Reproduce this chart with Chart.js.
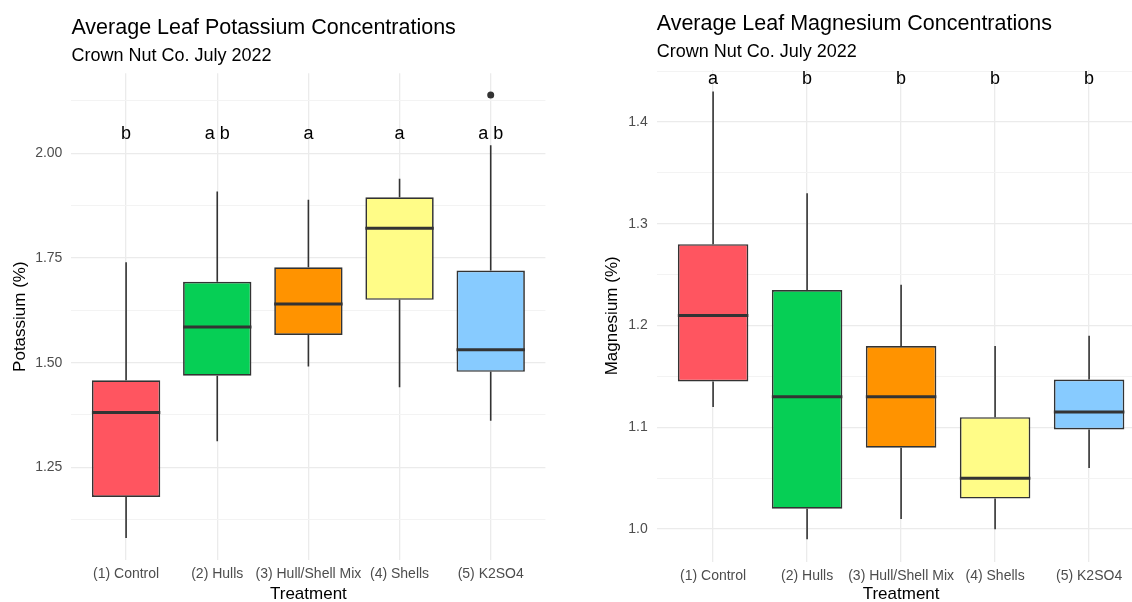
<!DOCTYPE html>
<html>
<head>
<meta charset="utf-8">
<script src="https://cdn.jsdelivr.net/npm/chart.js@4.4.1/dist/chart.umd.min.js"></script>
<style>
  html, body { margin: 0; padding: 0; background: #fff; overflow: hidden; }
  body { width: 1132px; height: 602px; position: relative; }
  .panel { position: absolute; top: 0; height: 602px; }
  #potasio { left: 0; width: 566px; }
  #magnesio { left: 566px; width: 600px; }
</style>
</head>
<body>
<div class="panel" id="potasio"><canvas id="chartK"></canvas></div>
<div class="panel" id="magnesio"><canvas id="chartMg"></canvas></div>
<script>
const tratamientos = ["(1) Control", "(2) Hulls", "(3) Hull/Shell Mix", "(4) Shells", "(5) K2SO4"];
const colores = ["#FF5560", "#06CF55", "#FF9300", "#FFFC87", "#87CBFF"];

// Potasio (%)
const kMin = [1.081, 1.312, 1.491, 1.441, 1.361];
const kQ1 = [1.179, 1.469, 1.566, 1.650, 1.478];
const kMed = [1.381, 1.585, 1.640, 1.821, 1.531];
const kQ3 = [1.458, 1.693, 1.728, 1.895, 1.720];
const kMax = [1.740, 1.909, 1.889, 1.939, 2.019];
const kAtipicos = [{ x: 5, y: 2.139 }];
const kLetras = ["b", "a b", "a", "a", "a b"];
const kTicks = [1.25, 1.50, 1.75, 2.00];

// Magnesio (%)
const mgMin = [1.120, 0.990, 1.010, 1.000, 1.060];
const mgQ1 = [1.145, 1.020, 1.080, 1.030, 1.098];
const mgMed = [1.210, 1.130, 1.130, 1.050, 1.115];
const mgQ3 = [1.280, 1.235, 1.180, 1.110, 1.147];
const mgMax = [1.430, 1.330, 1.240, 1.180, 1.190];
const mgAtipicos = [];
const mgLetras = ["a", "b", "b", "b", "b"];
const mgTicks = [1.0, 1.1, 1.2, 1.3, 1.4];

const fuente = '"Liberation Sans", Arial, sans-serif';

function crearGrafico(id, c) {
  const pasoMenor = (c.ticks[1] - c.ticks[0]) / 2;

  // bigotes, medianas, letras y titulos
  const cajas = {
    id: 'cajas',
    afterDatasetsDraw(chart) {
      const { ctx, scales: { x, y } } = chart;
      const medio = x.getPixelForValue(1.375) - x.getPixelForValue(1);
      ctx.save();
      ctx.strokeStyle = '#333333';
      c.min.forEach((v, i) => {
        const cx = x.getPixelForValue(i + 1);
        ctx.lineWidth = 1.6;
        ctx.beginPath();
        ctx.moveTo(cx, y.getPixelForValue(c.q3[i]));
        ctx.lineTo(cx, y.getPixelForValue(c.max[i]));
        ctx.moveTo(cx, y.getPixelForValue(c.q1[i]));
        ctx.lineTo(cx, y.getPixelForValue(v));
        ctx.stroke();
        const my = y.getPixelForValue(c.med[i]);
        ctx.lineWidth = 3;
        ctx.beginPath();
        ctx.moveTo(cx - medio, my);
        ctx.lineTo(cx + medio, my);
        ctx.stroke();
      });
      ctx.fillStyle = '#000';
      ctx.font = '18px ' + fuente;
      ctx.textAlign = 'center';
      ctx.textBaseline = 'alphabetic';
      c.letras.forEach((t, i) => {
        ctx.fillText(t, x.getPixelForValue(i + 1), y.getPixelForValue(c.yLetras));
      });
      ctx.restore();
    },
    afterDraw(chart) {
      const { ctx, chartArea } = chart;
      ctx.save();
      ctx.fillStyle = '#000';
      ctx.textAlign = 'left';
      ctx.textBaseline = 'alphabetic';
      ctx.font = '21.5px ' + fuente;
      ctx.fillText(c.titulo, chartArea.left, c.yTitulo);
      ctx.font = '18px ' + fuente;
      ctx.fillText(c.subtitulo, chartArea.left, c.ySub);
      ctx.restore();
    }
  };

  return new Chart(document.getElementById(id), {
    type: 'bar',
    data: {
      datasets: [
        {
          data: c.q1.map((q, i) => ({ x: i + 1, y: [q, c.q3[i]] })),
          backgroundColor: colores,
          borderColor: '#333333',
          borderWidth: 1.7,
          borderSkipped: false,
          barPercentage: 0.75,
          categoryPercentage: 1,
          order: 2
        },
        {
          type: 'scatter',
          data: c.atipicos,
          pointRadius: 3.5,
          backgroundColor: '#333333',
          borderWidth: 0,
          order: 1
        }
      ]
    },
    options: {
      responsive: true,
      maintainAspectRatio: false,
      animation: false,
      layout: { padding: { top: c.arriba, right: c.derecha, left: 0, bottom: 0 } },
      plugins: { legend: { display: false }, tooltip: { enabled: false } },
      scales: {
        x: {
          type: 'linear',
          min: 0.4,
          max: 5.6,
          offset: false,
          afterBuildTicks: s => { s.ticks = tratamientos.map((t, i) => ({ value: i + 1 })); },
          afterFit: s => { s.height = c.altoX; },
          ticks: {
            callback: v => tratamientos[Math.round(v) - 1],
            autoSkip: false,
            maxRotation: 0,
            padding: 6,
            color: '#4D4D4D',
            font: { family: fuente, size: 14 }
          },
          grid: { offset: false, color: '#EBEBEB', lineWidth: 1.3, drawTicks: false },
          border: { display: false },
          title: {
            display: true,
            text: 'Treatment',
            color: '#000',
            padding: 0,
            font: { family: fuente, size: 17, lineHeight: 0.85 }
          }
        },
        y: {
          min: c.yMin,
          max: c.yMax,
          afterBuildTicks: s => {
            const lista = [];
            for (let v = c.ticks[0] - 2 * pasoMenor; v <= s.max + 1e-9; v += pasoMenor) {
              if (v >= s.min) lista.push({ value: +v.toFixed(4) });
            }
            s.ticks = lista;
          },
          afterFit: s => { s.width = c.anchoY; },
          ticks: {
            callback: v => c.ticks.some(t => Math.abs(t - v) < 1e-6) ? v.toFixed(c.decimales) : '',
            autoSkip: false,
            padding: 9,
            color: '#4D4D4D',
            font: { family: fuente, size: 14 }
          },
          grid: {
            color: ctx => c.ticks.some(t => Math.abs(t - ctx.tick.value) < 1e-6) ? '#EBEBEB' : '#F3F3F3',
            lineWidth: ctx => c.ticks.some(t => Math.abs(t - ctx.tick.value) < 1e-6) ? 1.3 : 1,
            drawTicks: false
          },
          border: { display: false },
          title: {
            display: true,
            text: c.tituloY,
            color: '#000',
            padding: { top: c.padTituloY, bottom: 0 },
            font: { family: fuente, size: 17 }
          }
        }
      }
    },
    plugins: [cajas]
  });
}

crearGrafico('chartK', {
  min: kMin, q1: kQ1, med: kMed, q3: kQ3, max: kMax, atipicos: kAtipicos,
  letras: kLetras, yLetras: 2.033, ticks: kTicks, decimales: 2,
  yMin: 1.0287, yMax: 2.191,
  titulo: 'Average Leaf Potassium Concentrations', subtitulo: 'Crown Nut Co. July 2022',
  yTitulo: 34.3, ySub: 61, tituloY: 'Potassium (%)', padTituloY: 10,
  arriba: 73.3, derecha: 20.6, altoX: 42, anchoY: 71.4
});

crearGrafico('chartMg', {
  min: mgMin, q1: mgQ1, med: mgMed, q3: mgQ3, max: mgMax, atipicos: mgAtipicos,
  letras: mgLetras, yLetras: 1.437, ticks: mgTicks, decimales: 1,
  yMin: 0.968, yMax: 1.4511,
  titulo: 'Average Leaf Magnesium Concentrations', subtitulo: 'Crown Nut Co. July 2022',
  yTitulo: 30, ySub: 57, tituloY: 'Magnesium (%)', padTituloY: 36,
  arriba: 70, derecha: 20.5, altoX: 40.3, anchoY: 90.7
});
</script>
</body>
</html>
